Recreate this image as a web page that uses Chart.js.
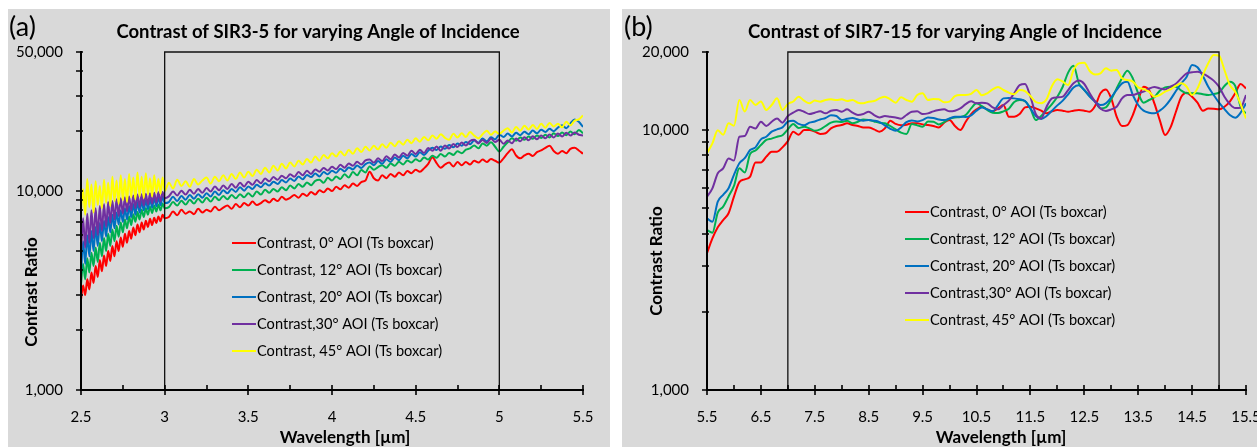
<!DOCTYPE html>
<html><head><meta charset="utf-8">
<script src="https://cdn.jsdelivr.net/npm/chart.js@4.4.1/dist/chart.umd.min.js"></script>
<style>
html,body{margin:0;padding:0;background:#fff;width:1257px;height:447px;overflow:hidden;}
.panel{position:absolute;background:#d9d9d9;}
#pa{left:8px;top:9px;width:602px;height:438px;}
#pb{left:622px;top:9px;width:635px;height:438px;}
canvas{display:block;}
</style></head><body>
<div class="panel" id="pa"><canvas id="ca" width="602" height="438"></canvas></div>
<div class="panel" id="pb"><canvas id="cb" width="635" height="438"></canvas></div>
<script>
// ---------------- DATA ----------------
const seriesLabels = ["Contrast, 0° AOI (Ts boxcar)","Contrast, 12° AOI (Ts boxcar)","Contrast, 20° AOI (Ts boxcar)","Contrast,30° AOI (Ts boxcar)","Contrast, 45° AOI (Ts boxcar)"];
const seriesColors = ["#ff0000","#00b050","#0070c0","#7030a0","#ffff00"];

// Panel (a): SIR3-5, wavelength in µm
const wlA = [
2.5,2.5125,2.525,2.5375,2.55,2.5625,2.575,2.5875,2.6,2.6125,
2.625,2.6375,2.65,2.6625,2.675,2.6875,2.7,2.7125,2.725,2.7375,
2.75,2.7625,2.775,2.7875,2.8,2.8125,2.825,2.8375,2.85,2.8625,
2.875,2.8875,2.9,2.9125,2.925,2.9375,2.95,2.9625,2.975,2.9875,
3.0,
3.025,3.05,3.075,3.1,3.125,3.15,3.175,3.2,3.225,3.25,
3.275,3.3,3.325,3.35,3.375,3.4,3.425,3.45,3.475,3.5,
3.525,3.55,3.575,3.6,3.625,3.65,3.675,3.7,3.725,3.75,
3.775,3.8,3.825,3.85,3.875,3.9,3.925,3.95,3.975,4.0,
4.025,4.05,4.075,4.1,4.125,4.15,4.175,4.2,4.225,4.25,
4.275,4.3,4.325,4.35,4.375,4.4,4.425,4.45,4.475,4.5,
4.525,4.55,4.575,4.6,4.625,4.65,4.675,4.7,4.725,4.75,
4.775,4.8,4.825,4.85,4.875,4.9,4.925,4.95,4.975,5.0,
5.025,5.05,5.075,5.1,5.125,5.15,5.175,5.2,5.225,5.25,
5.275,5.3,5.325,5.35,5.375,5.4,5.425,5.45,5.475,5.5];

const a0 = [
2850,3350,3000,3600,3200,3900,3450,4200,3700,4500,
3950,4750,4200,5000,4450,5300,4700,5600,5000,5850,
5250,6100,5500,6300,5750,6550,6000,6800,6200,6950,
6400,7100,6600,7250,6750,7350,6900,7450,7050,7600,
7300,
7400,7900,7550,8050,7700,7900,7650,8150,7800,8050,
7900,8350,8000,8250,8450,8150,8600,8300,8700,8450,
8850,8500,8700,9000,8750,9150,8900,9350,9050,9250,
9550,9250,9700,9450,9900,9600,10100,9850,10300,10000,
10500,10200,10700,10400,10900,10600,11100,11300,12500,11600,
11300,12000,11600,12200,11800,12400,12000,12600,12300,12800,
12500,13000,13700,14800,13800,13100,13600,13900,13300,14000,
13500,14000,13600,14200,13900,14400,14000,14500,14200,13900,
14600,15500,16200,15100,14600,15100,15400,15000,15700,16000,
16500,16900,15900,15400,15900,15500,16300,16500,16000,15400];

const a12 = [
3400,4300,3600,4600,3900,4900,4200,5200,4400,5500,
4700,5800,5000,6100,5300,6400,5600,6700,5900,6950,
6200,7200,6500,7450,6750,7650,7000,7850,7200,8050,
7400,8200,7600,8350,7750,8450,7900,8550,8000,8650,
8200,
8300,8800,8450,8950,8550,9050,8650,9150,8750,9250,
8850,9350,9000,9450,9100,9550,9200,9650,9300,9750,
9400,9950,9600,10150,9800,10250,9950,10450,10100,10650,
10300,10850,10500,11050,10700,11250,11400,11000,11650,11300,
11850,11500,12150,11700,12450,12000,12750,12400,13300,12800,
13200,13500,13100,13750,13400,14050,13600,14250,13900,14450,
14100,14750,14400,15050,14700,15350,14900,15550,15200,15850,
15500,16150,16400,16950,16400,17350,16900,17600,16700,15800,
16700,17600,18400,17900,18600,18100,18800,18300,19000,18500,
19200,18600,19500,18900,19700,19100,19900,19300,20300,19500];

const a20 = [
3800,5600,4300,6000,4700,6300,5000,6600,5300,6900,
5600,7100,5900,7400,6200,7600,6500,7800,6800,8000,
7000,8200,7200,8400,7400,8600,7600,8800,7800,8900,
8000,9000,8100,9100,8250,9200,8400,9300,8500,9400,
8700,
8800,9350,8900,9450,9050,9550,9150,9650,9250,9750,
9400,9950,9550,10100,9750,10250,9900,10450,10050,10550,
10250,10750,10450,10950,10650,11150,10850,11350,11050,11550,
11250,11850,11450,12050,11750,12250,11850,12450,12150,12650,
12350,12950,12550,13150,12850,13450,13050,13650,13900,13500,
14150,13700,14450,14000,14750,14300,15050,14600,15350,14900,
15650,15200,15950,16500,16100,16750,16300,17050,16600,17350,
16900,17650,17200,17950,17500,18350,17800,18650,18200,19200,
18700,19450,18800,19650,19100,19850,19300,20150,19500,20350,
19800,20550,20000,20850,21400,20700,21900,22900,22300,21000];

const a30 = [
4800,7300,5200,7700,5500,8000,5800,8200,6000,8400,
6300,8600,6600,8800,6900,8900,7200,9100,7500,9200,
7700,9300,7900,9400,8000,9500,8200,9600,8300,9650,
8450,9700,8550,9750,8650,9800,8750,9850,8850,9900,
9200,
9400,9950,9500,10050,9600,10150,9700,10250,9800,10350,
9950,10550,10100,10650,10250,10850,10400,11000,10550,11150,
10750,11350,10950,11550,11200,11750,11400,11950,11600,12150,
11800,12450,12000,12650,12200,12850,12500,13050,12700,13250,
12900,13550,13100,13750,13400,14050,13600,14250,14400,13900,
14600,14150,14950,14450,15250,14750,15550,15050,15950,15350,
16150,15550,16450,15950,16750,15950,16950,16350,17250,16650,
17550,16950,17850,18100,17350,18050,17450,18350,17650,18100,
17300,17950,17400,18350,17800,18650,18000,18850,18200,19000,
18400,19250,18600,19450,18800,19650,19000,19700,19200,19000];

const a45 = [
8000,10200,7600,11500,8300,10800,7800,11200,8500,10600,
8200,11400,8700,11000,8400,11800,8900,11300,8600,12000,
9000,11500,8800,12200,9300,11700,9100,12400,9400,11800,
9200,12300,9600,11600,9400,12000,9800,11500,9700,11700,
10000,
11000,10300,11400,10600,11200,10500,11500,10800,11300,11700,
10900,11800,11200,12000,11300,12200,11500,12400,11700,12500,
11900,12800,12200,13100,12400,13400,12700,13700,13000,13900,
13300,14200,13600,14500,13900,14900,14200,15200,14600,15500,
14900,15800,15100,16100,15400,16400,15700,16700,16000,16900,
16200,17200,16500,17500,16800,17800,17100,18100,17400,18400,
17700,18700,18000,19000,18300,19300,18500,18100,19400,18600,
19500,18700,19800,19000,18400,19300,20100,19200,19900,19400,
20100,20700,19700,21000,20100,21300,20400,21500,20500,21800,
20800,22000,21100,21800,20900,22300,21400,22600,22900,24000];

const xTicksA = [2.5,2.75,3,3.25,3.5,3.75,4,4.25,4.5,4.75,5,5.25,5.5];
const xLabelsA = [2.5,3,3.5,4,4.5,5,5.5];
const yTicksA = [1000,2000,3000,4000,5000,6000,7000,8000,9000,10000,20000,30000,40000,50000];
const yLabelsA = [1000,10000,50000];
const boxA = [3,5];

// Panel (b): SIR7-15
const wlB = [
5.5,5.6,5.7,5.8,5.9,6.0,6.1,6.2,6.3,6.4,
6.5,6.6,6.7,6.8,6.9,7.0,7.1,7.2,7.3,7.4,
7.5,7.6,7.7,7.8,7.9,8.0,8.1,8.2,8.3,8.4,
8.5,8.6,8.7,8.8,8.9,9.0,9.1,9.2,9.3,9.4,
9.5,9.6,9.7,9.8,9.9,10.0,10.1,10.2,10.3,10.4,
10.5,10.6,10.7,10.8,10.9,11.0,11.1,11.2,11.3,11.4,
11.5,11.6,11.7,11.8,11.9,12.0,12.1,12.2,12.3,12.4,
12.5,12.6,12.7,12.8,12.9,13.0,13.1,13.2,13.3,13.4,
13.5,13.6,13.7,13.8,13.9,14.0,14.1,14.2,14.3,14.4,
14.5,14.6,14.7,14.8,14.9,15.0,15.1,15.2,15.3,15.4,
15.5];

const b0 = [
3360,3830,4230,4510,4790,5550,6310,6470,6630,7510,
7510,7910,8270,8270,8590,9080,9870,9610,10010,10010,
9870,9670,9730,10160,10380,10470,10630,10470,10380,10250,
10250,10070,9870,10160,10880,10570,10440,10500,10630,10630,
10530,10470,10380,10250,10690,10940,10380,10010,10780,11540,
12030,12310,12030,11820,12130,12500,11270,11270,11540,12240,
12310,12130,11890,11610,11820,11960,11890,11780,11890,11960,
11890,11780,12380,13870,14360,13260,11270,10380,10470,11440,
13070,14700,14280,12690,10940,9580,10250,11780,13460,13950,
13460,12760,11890,12130,12100,12030,12310,12880,13870,15060,
14490];

const b12 = [
4130,4030,4820,5080,5560,6100,7130,6870,8100,8350,
8770,9170,9280,9440,9560,10070,10570,10190,10310,10160,
9950,10070,10380,10690,10810,10750,10880,10630,10780,11000,
10940,10810,10690,10630,10380,10070,9790,9670,10570,10440,
10310,10810,10780,10530,10750,11070,11200,11240,11440,12130,
12690,12380,11960,11680,11650,11820,12100,12840,13070,12920,
12130,10940,11340,11960,12610,13460,14700,16660,17700,15150,
14280,13540,12880,12130,12240,13150,14490,15840,16950,15840,
13870,12760,13070,13380,14200,14620,14700,14700,14200,13870,
13870,13870,13750,13660,13790,13950,14800,15380,14800,12310,
11610];

const b20 = [
4580,4440,5310,5640,5980,6730,7460,7800,8390,8590,
9220,9440,9870,10070,10250,10780,10880,10570,10440,10690,
10810,11000,11140,11410,11340,10940,11070,11140,11000,10880,
10940,10880,10750,10440,10130,9950,10250,10750,10910,10810,
10940,11200,11140,11000,10940,11100,11270,11270,11240,11410,
11890,12240,12030,11820,12500,13260,13300,13260,13150,12950,
12130,11340,11040,11340,11890,12460,13000,13750,14610,14880,
14280,13460,12880,12500,12690,13380,14280,15150,15380,13660,
12500,11890,11680,11610,11890,12380,13150,14150,15150,16070,
17820,17460,16170,14700,13660,12760,12060,11440,11170,11680,
12690];

const b30 = [
5550,5970,6830,7130,7790,7640,9440,9500,10310,10160,
10780,10380,10780,11100,10690,11340,11680,11960,11780,11540,
11680,11820,11610,11890,11960,11780,12030,11680,11440,11540,
11780,11440,11200,11340,11270,11200,11070,11440,11780,11820,
11540,11610,11820,11960,12030,11820,11890,12130,12610,12920,
12690,12760,12690,12240,12030,12500,13000,13870,14920,15060,
13460,11540,11100,12310,13260,13380,13460,14280,15150,15520,
15060,13870,12880,12130,11860,12030,12310,13260,13660,13660,
13870,14070,14450,14660,14490,14360,14700,15100,15840,16560,
16710,16800,16510,16070,15520,14700,13460,12610,12170,12200,
13660];

const b45 = [
8150,8900,10000,9600,10630,10400,13070,11800,13070,12500,
12900,11960,12500,13260,11960,12620,12900,13460,13000,12690,
13000,12880,13070,13150,13070,13150,12950,13070,12760,12690,
12880,12950,13260,13460,13150,12760,13380,13070,12880,13660,
13870,13070,13190,13150,12800,12880,13540,13660,13660,13790,
14280,13620,13870,14360,14660,14280,13950,13750,14280,14150,
13540,12840,12690,13150,14800,15700,15380,14920,17050,18090,
18200,16900,16400,16560,17300,16950,17050,15840,15610,15380,
14620,14400,14070,13460,13660,14070,14360,14830,15150,14700,
13660,14490,16310,18090,19470,19350,17050,14920,14070,12610,
11100];

const xTicksB = [5.5,6,6.5,7,7.5,8,8.5,9,9.5,10,10.5,11,11.5,12,12.5,13,13.5,14,14.5,15,15.5];
const xLabelsB = [5.5,6.5,7.5,8.5,9.5,10.5,11.5,12.5,13.5,14.5,15.5];
const yTicksB = [1000,2000,3000,4000,5000,6000,7000,8000,9000,10000,20000];
const yLabelsB = [1000,10000,20000];
const boxB = [7,15];

// ---------------- RENDERING ----------------
const FONT = 'Lato, "Open Sans", "Liberation Sans", sans-serif';
Chart.defaults.font.family = FONT;
Chart.defaults.color = '#000';

const decor = {
  id: 'decor',
  afterDraw(chart, args, o) {
    const ctx = chart.ctx, a = chart.chartArea, xs = chart.scales.x, ys = chart.scales.y;
    ctx.save();
    ctx.strokeStyle = '#000';
    ctx.lineWidth = 2;
    ctx.beginPath();
    ctx.moveTo(a.left, a.top - 1);
    ctx.lineTo(a.left, a.bottom);
    ctx.lineTo(a.right + 1, a.bottom);
    ctx.stroke();
    ctx.lineWidth = 1.6;
    ctx.beginPath();
    ys.ticks.forEach(t => {
      const y = Math.round(ys.getPixelForValue(t.value));
      ctx.moveTo(a.left - 5, y); ctx.lineTo(a.left + 2, y);
    });
    xs.ticks.forEach(t => {
      const x = Math.round(xs.getPixelForValue(t.value));
      const major = o.xLabels.includes(t.value);
      ctx.moveTo(x, a.bottom - 5); ctx.lineTo(x, a.bottom + (major ? 5 : 0));
    });
    ctx.stroke();
    // texts
    ctx.fillStyle = '#000';
    ctx.textBaseline = 'middle';
    ctx.textAlign = 'left';
    ctx.font = '27px ' + FONT;
    ctx.fillText(o.letter, o.letterX, o.letterY);
    ctx.textAlign = 'center';
    ctx.font = 'bold 18.5px ' + FONT;
    ctx.fillText(o.title, o.titleX, o.titleY);
    ctx.font = 'bold 17px ' + FONT;
    ctx.fillText('Wavelength [µm]', o.xTitleX, o.xTitleY);
    ctx.save();
    ctx.translate(o.yTitleX, o.yTitleY);
    ctx.rotate(-Math.PI / 2);
    ctx.fillText('Contrast Ratio', 0, 0);
    ctx.restore();
    // legend
    ctx.font = '14.6px ' + FONT;
    ctx.textAlign = 'left';
    let row = 0;
    chart.data.datasets.forEach(ds => {
      if (ds.isBox) return;
      const y = o.legY + row * o.legGap;
      ctx.strokeStyle = ds.borderColor;
      ctx.lineWidth = 2;
      ctx.beginPath(); ctx.moveTo(o.legX, y); ctx.lineTo(o.legX + 24, y); ctx.stroke();
      ctx.fillText(ds.label, o.legX + 25, y);
      row++;
    });
    ctx.restore();
  }
};

function makeChart(id, cfg) {
  const wl = cfg.wl;
  const datasets = cfg.series.map((vals, i) => ({
    label: seriesLabels[i],
    data: wl.map((x, j) => ({ x: x, y: vals[j] })),
    borderColor: seriesColors[i],
    backgroundColor: seriesColors[i],
    borderWidth: 2,
    pointRadius: 0,
    cubicInterpolationMode: 'monotone',
    order: 5 - i
  }));
  datasets.push({
    label: 'box', isBox: true,
    data: [{x: cfg.box[0], y: cfg.yMin}, {x: cfg.box[0], y: cfg.yMax}, {x: cfg.box[1], y: cfg.yMax}, {x: cfg.box[1], y: cfg.yMin}],
    borderColor: '#111', borderWidth: 1.3, pointRadius: 0, order: 0, clip: 2
  });
  const H = 438, W = cfg.W;
  return new Chart(document.getElementById(id), {
    type: 'line',
    data: { datasets },
    options: {
      responsive: false, animation: false, devicePixelRatio: 1,
      layout: { padding: { left: 0, top: 43, right: W - cfg.right, bottom: 0 } },
      plugins: {
        legend: { display: false }, title: { display: false }, tooltip: { enabled: false },
        decor: cfg.decor
      },
      scales: {
        x: {
          type: 'linear', min: cfg.xMin, max: cfg.xMax,
          grid: { display: false }, border: { display: false },
          afterBuildTicks: s => { s.ticks = cfg.xTicks.map(v => ({ value: v })); },
          afterFit: s => { s.height = H - 381; s.paddingLeft = 0; s.paddingRight = 0; },
          ticks: {
            autoSkip: false, maxRotation: 0, padding: 10, color: '#000', font: { size: 15 },
            callback: v => cfg.decor.xLabels.includes(v) ? String(v % 1 === 0 ? v : v.toFixed(1)) : ''
          }
        },
        y: {
          type: 'logarithmic', min: cfg.yMin, max: cfg.yMax,
          grid: { display: false }, border: { display: false },
          afterBuildTicks: s => { s.ticks = cfg.yTicks.map(v => ({ value: v })); },
          afterFit: s => { s.width = cfg.left; s.paddingTop = 0; s.paddingBottom = 0; },
          ticks: {
            autoSkip: false, padding: 10, color: '#000', font: { size: 15 },
            callback: v => cfg.yLabels.includes(v) ? v.toLocaleString('en-US') : ''
          }
        }
      }
    },
    plugins: [decor]
  });
}

makeChart('ca', {
  W: 602, left: 73, right: 575, wl: wlA, series: [a0, a12, a20, a30, a45],
  xMin: 2.5, xMax: 5.5, yMin: 1000, yMax: 50000, xTicks: xTicksA, yTicks: yTicksA, yLabels: yLabelsA, box: boxA,
  decor: { xLabels: xLabelsA, letter: '(a)', letterX: 1, letterY: 18, title: 'Contrast of SIR3-5 for varying Angle of Incidence',
    titleX: 310, titleY: 23, xTitleX: 337, xTitleY: 429, yTitleX: 24, yTitleY: 283, legX: 224, legY: 234, legGap: 27 }
});
makeChart('cb', {
  W: 635, left: 85, right: 624, wl: wlB, series: [b0, b12, b20, b30, b45],
  xMin: 5.5, xMax: 15.5, yMin: 1000, yMax: 20000, xTicks: xTicksB, yTicks: yTicksB, yLabels: yLabelsB, box: boxB,
  decor: { xLabels: xLabelsB, letter: '(b)', letterX: 2, letterY: 18, title: 'Contrast of SIR7-15 for varying Angle of Incidence',
    titleX: 333, titleY: 23, xTitleX: 379, xTitleY: 429, yTitleX: 35, yTitleY: 252, legX: 283, legY: 203, legGap: 27 }
});
</script></body></html>
